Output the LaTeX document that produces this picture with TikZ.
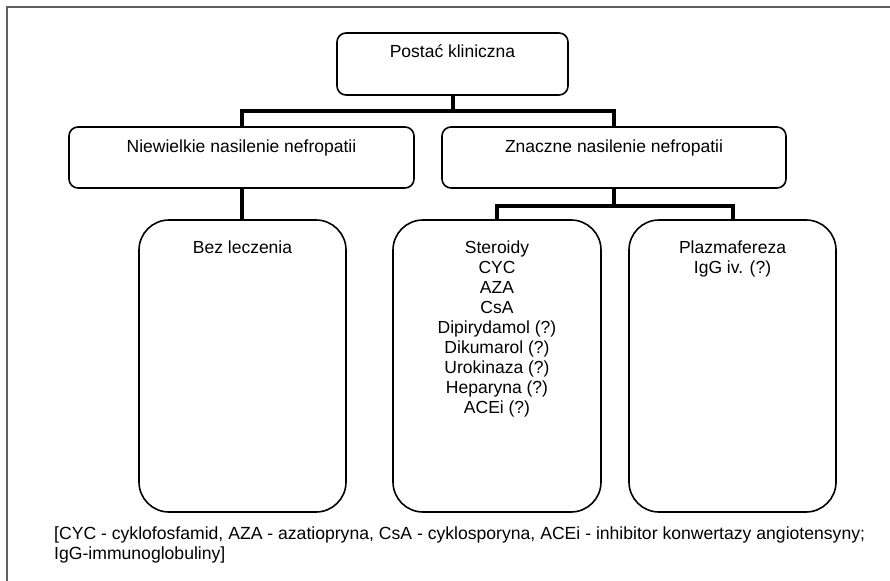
\documentclass[tikz,border=0pt]{standalone}
\usepackage{fontspec}
\setmainfont{Liberation Sans}
\newcommand{\boxtxt}[4]{\parbox[c][#1][t]{#2}{\centering\rule{0pt}{#3}#4}}
\begin{document}
\begin{tikzpicture}[x=1pt, y=-1pt,
	box/.style = {draw, line width=1.6pt, rounded corners=9pt, inner sep=0pt, font=\fontsize{17.5}{20}\selectfont},
	tall/.style = {box, rounded corners=30pt},
	link/.style = {line width=4pt}]
	\useasboundingbox (0,0) rectangle (890,580);
	\draw [gray!75!black, line width=2.2pt] (7,7) rectangle (900,590);
	% levels of the tree
	\node [box, minimum width=231pt, minimum height=62pt] (postac) at (452.5,64) {\boxtxt{62pt}{225pt}{25pt}{Postać kliniczna}};
	\node [box, minimum width=345pt, minimum height=61pt] (niewielkie) at (241.5,157.5) {\boxtxt{61pt}{335pt}{25pt}{Niewielkie nasilenie nefropatii}};
	\node [box, minimum width=344pt, minimum height=61pt] (znaczne) at (614,157.5) {\boxtxt{61pt}{335pt}{25pt}{Znaczne nasilenie nefropatii}};
	\node [tall, minimum width=207pt, minimum height=292pt] (bez) at (242.5,366) {\boxtxt{292pt}{200pt}{33pt}{Bez leczenia}};
	\node [tall, minimum width=208pt, minimum height=292pt] (steroidy) at (497,366) {\boxtxt{292pt}{200pt}{33pt}{Steroidy\\CYC\\AZA\\CsA\\Dipirydamol (?)\\Dikumarol (?)\\Urokinaza (?)\\Heparyna (?)\\ACEi (?)}};
	\node [tall, minimum width=207pt, minimum height=292pt] (plazma) at (732.5,366) {\boxtxt{292pt}{200pt}{33pt}{Plazmafereza\\IgG iv. (?)}};
	% connectors
	\draw [link] (postac.south) -- ++(0,15) -| (niewielkie.north);
	\draw [link] (postac.south) -- ++(0,15) -| (znaczne.north);
	\draw [link] (niewielkie.south) -- (niewielkie.south |- bez.north);
	\draw [link] (znaczne.south) -- ++(0,17) -| (steroidy.north);
	\draw [link] (znaczne.south) -- ++(0,17) -| (plazma.north);
	\node [anchor=base west, align=left, inner sep=0pt, font=\fontsize{17.6}{20}\selectfont] (legenda) at (54,559) {[CYC - cyklofosfamid, AZA - azatiopryna, CsA - cyklosporyna, ACEi - inhibitor konwertazy angiotensyny;\\IgG-immunoglobuliny]};
\end{tikzpicture}
\end{document}
